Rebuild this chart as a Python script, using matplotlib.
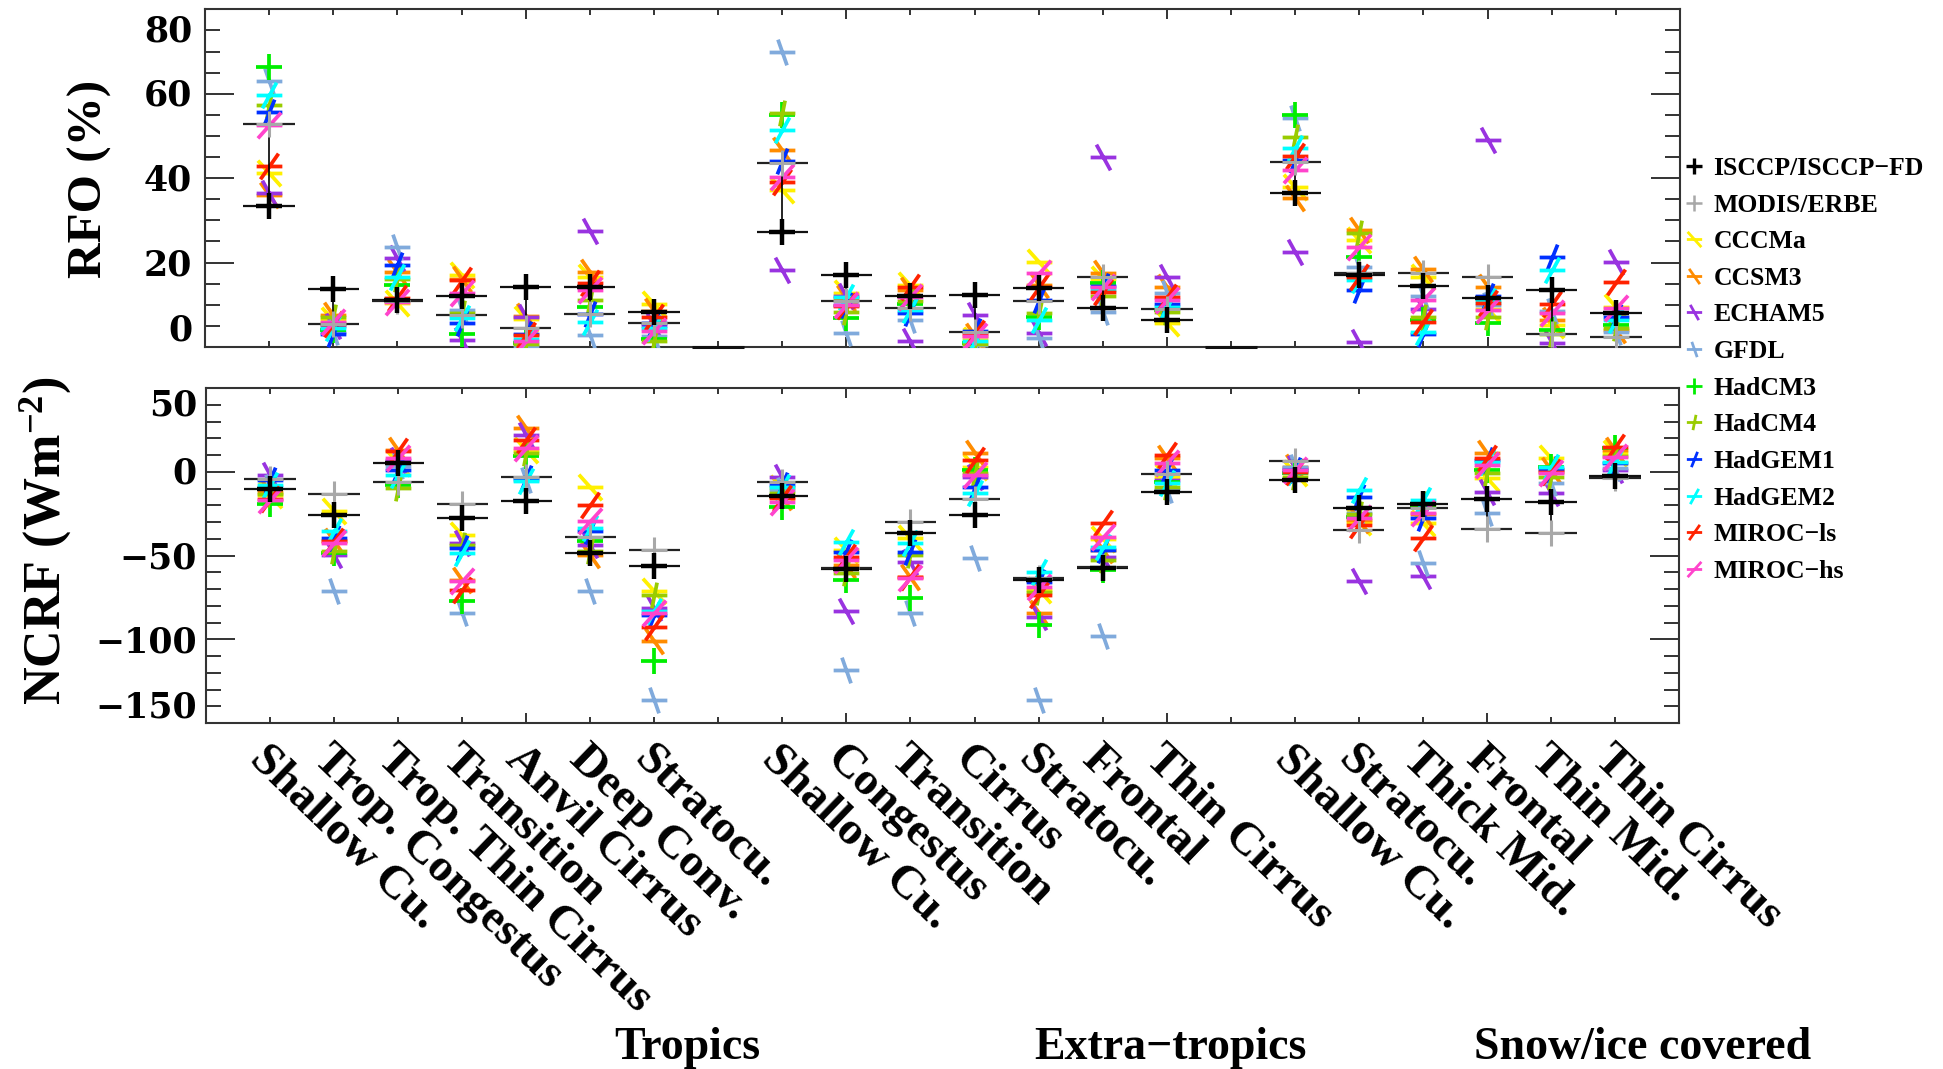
import numpy as np
import matplotlib
matplotlib.use("Agg")
import matplotlib.pyplot as plt
from matplotlib.path import Path
from matplotlib.lines import Line2D
from matplotlib.transforms import blended_transform_factory, ScaledTranslation

plt.rcParams["font.family"] = ["Liberation Serif", "DejaVu Serif"]
plt.rcParams["font.weight"] = "bold"
plt.rcParams["mathtext.fontset"] = "custom"
plt.rcParams["mathtext.rm"] = "Liberation Serif:bold"
plt.rcParams["mathtext.bf"] = "Liberation Serif:bold"
plt.rcParams["mathtext.default"] = "bf"
plt.rcParams["axes.unicode_minus"] = True

nan = np.nan

# ---- categories -------------------------------------------------------
tropics_cats = ["Shallow Cu.", "Trop. Congestus", "Trop. Thin Cirrus", "Transition",
                "Anvil Cirrus", "Deep Conv.", "Stratocu."]
extratropics_cats = ["Shallow Cu.", "Congestus", "Transition", "Cirrus",
                     "Stratocu.", "Frontal", "Thin Cirrus"]
snow_cats = ["Shallow Cu.", "Stratocu.", "Thick Mid.", "Frontal", "Thin Mid.", "Thin Cirrus"]
region_names = ["Tropics", "Extra\u2212tropics", "Snow/ice covered"]

models = ["CCCMa", "CCSM3", "ECHAM5", "GFDL", "HadCM3", "HadCM4",
          "HadGEM1", "HadGEM2", "MIROC\u2212ls", "MIROC\u2212hs"]
model_colors = ["#FFF000", "#FF8C00", "#9933E0", "#80AADC", "#00EE00", "#99CC00",
                "#0030FF", "#00FFFF", "#FF2200", "#FF44CC"]
# shear of the crossing stroke of each model symbol
model_slant = [0.9, 0.7, 0.55, 0.35, 0.0, -0.2, -0.4, -0.55, -0.7, -0.9]

# ---- relative frequency of occurrence (%) -----------------------------
# order: 7 tropics, separator, 7 extra-tropics, separator, 6 snow/ice
rfo_cccma   = [41.3, 6.5, 10.4, 17.0, 6.6, 16.7, 10.3, nan, 37.2, 12.8, 14.7, 1.7, 20.2, 16.0, 5.6, nan, 38.0, 25.3, 16.5, 9.0, 5.2, 9.5]
rfo_ccsm3   = [36.0, 7.5, 17.8, 16.0, 7.3, 17.8, 8.5, nan, 46.7, 11.5, 13.5, 2.5, 14.8, 17.5, 14.3, nan, 35.2, 27.7, 18.5, 14.3, 6.4, 4.0]
rfo_echam5  = [36.5, 5.0, 21.0, 1.7, 7.2, 27.5, 5.0, nan, 18.2, 12.0, 1.4, 7.6, 3.2, 45.1, 16.7, nan, 22.6, 1.3, 9.0, 49.0, 0.9, 20.2]
rfo_gfdl    = [63.0, 3.5, 23.8, 8.8, 0.3, 2.8, 2.5, nan, 69.8, 3.3, 6.4, 0.5, 2.1, 8.4, 12.8, nan, 54.2, 19.0, 12.0, 10.0, 8.5, 3.5]
rfo_hadcm3  = [66.4, 4.0, 14.7, 3.0, 1.0, 9.5, 2.0, nan, 55.0, 6.8, 10.3, 0.9, 7.2, 15.2, 8.8, nan, 55.0, 21.4, 6.5, 5.6, 4.0, 5.2]
rfo_hadcm4  = [57.3, 7.0, 16.0, 8.0, 0.8, 11.1, 1.5, nan, 55.5, 8.3, 11.0, 0.8, 8.0, 12.0, 8.3, nan, 49.8, 26.9, 7.0, 7.0, 3.0, 4.5]
rfo_hadgem1 = [55.7, 3.0, 19.4, 5.6, 3.0, 7.8, 5.8, nan, 44.1, 10.0, 8.0, 3.9, 11.1, 14.5, 10.3, nan, 44.3, 13.5, 3.0, 12.0, 21.4, 7.2]
rfo_hadgem2 = [59.7, 4.5, 16.7, 6.8, 2.0, 6.0, 4.5, nan, 51.4, 11.9, 8.8, 1.5, 6.4, 13.5, 9.5, nan, 47.1, 15.9, 3.6, 11.0, 18.2, 6.5]
rfo_mirocls = [42.9, 5.5, 11.6, 15.9, 2.8, 15.1, 7.2, nan, 39.2, 9.8, 14.3, 3.2, 14.3, 13.0, 11.9, nan, 45.3, 16.7, 6.0, 10.5, 10.3, 15.5]
rfo_mirochs = [52.6, 6.0, 10.7, 12.7, 1.5, 13.5, 3.7, nan, 40.3, 9.9, 11.9, 2.5, 17.5, 14.1, 11.1, nan, 41.9, 23.8, 11.1, 8.8, 8.0, 9.2]
rfo_isccp   = [33.5, 13.7, 11.2, 12.2, 14.3, 14.3, 8.2, nan, 27.2, 17.1, 12.2, 12.3, 14.0, 9.3, 6.4, nan, 36.6, 17.0, 14.5, 11.7, 13.5, 8.0]
rfo_modis   = [52.8, 5.4, 10.8, 7.6, 4.6, 7.8, 5.8, nan, 43.5, 11.0, 9.2, 3.6, 10.9, 16.7, 9.0, nan, 43.8, 17.6, 17.5, 16.7, 3.0, 2.4]
rfo_separator = [0.0, 0.0]

# ---- net cloud radiative forcing (W m-2) -------------------------------
ncrf_cccma   = [-14.0, -23.6, 5.2, -37.6, 13.0, -9.3, -71.4, nan, -9.9, -46.7, -39.7, 3.0, -70.6, -40.0, -2.9, nan, -1.0, -30.0, -30.8, -4.0, 8.0, 11.0]
ncrf_ccsm3   = [-12.0, -41.5, 13.2, -64.4, 26.1, -49.5, -101.2, nan, -14.9, -55.7, -62.6, 11.0, -84.5, -47.0, 8.0, nan, 3.0, -29.0, -25.0, 11.0, 1.0, 13.0]
ncrf_echam5  = [-2.0, -49.5, 7.2, -42.5, 22.1, -43.5, -81.3, nan, -2.9, -82.9, -53.7, -2.9, -86.5, -50.7, -4.9, nan, 2.0, -65.0, -62.2, -11.9, -12.9, 1.0]
ncrf_gfdl    = [-9.0, -71.0, 3.2, -84.3, -4.7, -71.0, -136.1, nan, -10.9, -118.4, -84.5, -51.7, -136.3, -97.9, -10.9, nan, 3.0, -24.8, -54.7, -24.8, -6.9, 2.0]
ncrf_hadcm3  = [-19.0, -48.5, -7.7, -77.4, 9.2, -41.5, -113.2, nan, -20.8, -64.6, -75.6, 1.0, -91.5, -58.7, -5.9, nan, -1.0, -26.8, -20.8, 1.0, 3.0, 14.0]
ncrf_hadcm4  = [-13.0, -47.5, -9.7, -43.5, 11.2, -47.5, -73.4, nan, -12.5, -60.6, -49.7, -0.9, -71.5, -52.7, -8.9, nan, -3.0, -25.0, -19.0, -1.0, -3.0, 9.5]
ncrf_hadgem1 = [-5.0, -39.6, 1.2, -45.5, -3.7, -35.6, -85.3, nan, -7.9, -47.7, -47.7, -8.9, -65.6, -46.7, 1.0, nan, 1.0, -14.9, -27.8, 7.0, 1.5, 5.5]
ncrf_hadgem2 = [-8.0, -35.6, -1.7, -48.5, -5.7, -33.6, -83.3, nan, -8.9, -41.7, -42.7, -12.9, -59.6, -44.7, -6.9, nan, 0.0, -10.9, -16.9, 6.0, 3.0, 6.0]
ncrf_mirocls = [-16.0, -41.5, 12.2, -70.4, 19.2, -19.7, -92.9, nan, -15.9, -50.7, -62.6, 7.0, -73.6, -30.8, 10.0, nan, 0.0, -31.8, -39.7, 8.0, 0.0, 15.0]
ncrf_mirochs = [-17.0, -42.5, 8.2, -65.4, 14.2, -29.6, -84.3, nan, -17.9, -52.7, -63.6, -1.9, -68.6, -38.8, 5.0, nan, 1.0, -27.8, -24.8, 4.0, -1.0, 9.0]
ncrf_isccpfd = [-10.3, -25.6, 5.0, -27.6, -17.3, -48.7, -56.5, nan, -14.3, -58.3, -36.8, -25.8, -64.5, -57.7, -11.9, nan, -4.9, -21.4, -19.4, -16.5, -18.3, -2.5]
ncrf_erbe    = [-4.1, -13.3, -5.9, -19.1, -3.1, -38.8, -46.5, nan, -6.3, -57.5, -30.0, -16.3, -63.5, -57.0, -1.3, nan, 6.6, -35.0, -21.4, -34.2, -36.8, -3.5]

rfo_models = [rfo_cccma, rfo_ccsm3, rfo_echam5, rfo_gfdl, rfo_hadcm3, rfo_hadcm4,
              rfo_hadgem1, rfo_hadgem2, rfo_mirocls, rfo_mirochs]
ncrf_models = [ncrf_cccma, ncrf_ccsm3, ncrf_echam5, ncrf_gfdl, ncrf_hadcm3, ncrf_hadcm4,
               ncrf_hadgem1, ncrf_hadgem2, ncrf_mirocls, ncrf_mirochs]

labels = tropics_cats + [""] + extratropics_cats + [""] + snow_cats
xpos = np.arange(len(labels))
separator_pos = [i for i, s in enumerate(labels) if s == ""]


def slanted_cross(t):
    verts = [(-1, 0), (1, 0), (-t, 1), (t, -1)]
    codes = [Path.MOVETO, Path.LINETO, Path.MOVETO, Path.LINETO]
    return Path(verts, codes)


model_markers = [slanted_cross(t) for t in model_slant]
plus = slanted_cross(0.0)

W, H = 1943, 1069
fig = plt.figure(figsize=(W / 100, H / 100), dpi=100)
ax1 = fig.add_axes([205 / W, 1 - 347 / H, 1475 / W, 337.7 / H])
ax2 = fig.add_axes([206 / W, 1 - 723 / H, 1473 / W, 335 / H])

MS = 18.5
HALF = 0.4


def draw_panel(ax, model_vals, obs_black, obs_gray):
    for vals, col, mk in zip(model_vals, model_colors, model_markers):
        ax.plot(xpos, vals, ls="none", marker=mk, ms=MS, mew=2.7, color=col,
                mfc="none", zorder=3)
    ob = np.asarray(obs_black, float)
    og = np.asarray(obs_gray, float)
    ok = np.isfinite(ob) & np.isfinite(og)
    ax.vlines(xpos[ok], np.minimum(ob, og)[ok], np.maximum(ob, og)[ok],
              color="black", lw=1.2, zorder=4)
    ax.hlines(ob[ok], xpos[ok] - HALF, xpos[ok] + HALF, color="#111111", lw=1.6, zorder=4)
    ax.hlines(og[ok], xpos[ok] - HALF, xpos[ok] + HALF, color="#222222", lw=1.6, zorder=4)
    ax.plot(xpos, og, ls="none", marker=plus, ms=MS, mew=2.2, color="#A8A8A8", zorder=5)
    ax.plot(xpos, ob, ls="none", marker=plus, ms=MS, mew=3.2, color="black", zorder=6)


draw_panel(ax1, rfo_models, rfo_isccp, rfo_modis)
ax1.hlines(rfo_separator, np.array(separator_pos) - HALF, np.array(separator_pos) + HALF,
           color="#111111", lw=2.2, zorder=4, clip_on=False)
draw_panel(ax2, ncrf_models, ncrf_isccpfd, ncrf_erbe)

ax1.set_ylim(0, 80)
ax2.set_ylim(-150, 50)

for ax, major, minor in [(ax1, [0, 20, 40, 60, 80], np.arange(0, 81, 5)),
                         (ax2, [-150, -100, -50, 0, 50], np.arange(-150, 51, 10))]:
    ax.set_xlim(-1, 22)
    ax.set_xticks([-1, 4, 9, 14, 19])
    ax.set_xticks(np.arange(-1, 23), minor=True)
    ax.set_yticks(major)
    ax.set_yticks(minor, minor=True)
    ax.tick_params(which="both", direction="in", top=True, right=True,
                   labelbottom=False, labelleft=False, color="#333333", width=1.4)
    ax.tick_params(axis="x", which="major", length=7)
    ax.tick_params(axis="x", which="minor", length=4.5)
    ax.tick_params(axis="y", which="major", length=21)
    ax.tick_params(axis="y", which="minor", length=11)
    for sp in ax.spines.values():
        sp.set_linewidth(1.5)
        sp.set_color("#333333")


def px(dx, dy):
    return ScaledTranslation(dx / 100, dy / 100, fig.dpi_scale_trans)


def ylabels(ax, vals, texts, shifts, pad):
    tr = blended_transform_factory(ax.transAxes, ax.transData)
    for v, s, sh in zip(vals, texts, shifts):
        ax.text(0, v, s, transform=tr + px(-pad, sh), ha="right", va="center",
                fontsize=25, fontweight="bold", family=["DejaVu Serif"], clip_on=False)


ylabels(ax1, [0, 20, 40, 60, 80], ["0", "20", "40", "60", "80"], [16, -3, -2, -2, -22], 13)
ylabels(ax2, [-150, -100, -50, 0, 50],
        ["\u2212150", "\u2212100", "\u221250", "0", "50"], [15, -3, -3, -2, -18], 9)

# category names under the lower panel
trc = blended_transform_factory(ax2.transData, ax2.transAxes)
for k, s in zip(xpos, labels):
    if s:
        ax2.text(k, 0, s, transform=trc + px(0, -15), rotation=-44, rotation_mode="anchor",
                 ha="left", va="top", fontsize=34, fontweight="bold")

for s, xc in zip(region_names, [687, 1170, 1643]):
    fig.text(xc / W, 1 - 1048 / H, s, ha="center", va="center", fontsize=33, fontweight="bold")

fig.text(90 / W, 1 - 179 / H, "RFO (%)", rotation=90, ha="center", va="center",
         fontsize=35.5, fontweight="bold")
fig.text(45 / W, 1 - 541 / H, "NCRF (Wm$^{\\mathbf{-2}}$)", rotation=90, ha="center",
         va="center", fontsize=37.5, fontweight="bold")

handles = [Line2D([], [], ls="none", marker=plus, ms=11, mew=2.4, color="black"),
           Line2D([], [], ls="none", marker=plus, ms=11, mew=1.8, color="#A8A8A8")]
handles += [Line2D([], [], ls="none", marker=mk, ms=11, mew=2.0, color=c)
            for mk, c in zip(model_markers, model_colors)]
leg_labels = ["ISCCP/ISCCP\u2212FD", "MODIS/ERBE"] + models
fig.legend(handles, leg_labels, loc="upper left", bbox_to_anchor=(1684 / W, 1 - 157 / H),
           frameon=False, handlelength=0.8, handletextpad=0.35, labelspacing=0.53,
           borderpad=0, borderaxespad=0, prop={"size": 18.5, "weight": "bold"})

fig.savefig("out.png", dpi=100)
